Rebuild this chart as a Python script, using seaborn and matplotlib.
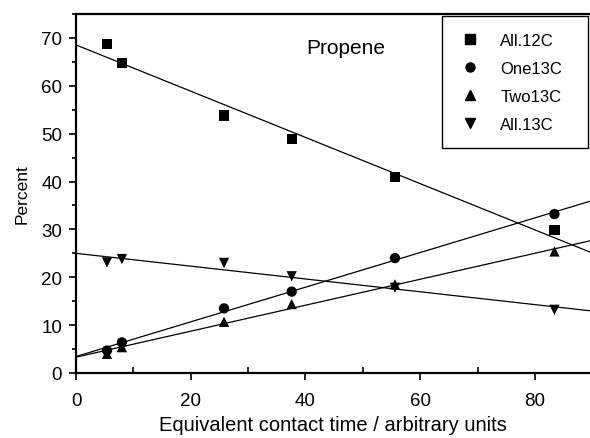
import matplotlib
matplotlib.use("Agg")
import matplotlib.pyplot as plt
from matplotlib.lines import Line2D
from matplotlib.ticker import MultipleLocator
import seaborn as sns
import pandas as pd

sns.set_style("ticks")
plt.rcParams['font.family'] = ['Liberation Sans', 'DejaVu Sans']
plt.rcParams['text.color'] = 'black'
plt.rcParams['axes.labelcolor'] = 'black'

# Data
series_names = ["All.12C", "One13C", "Two13C", "All.13C"]
time = [5.4, 8.0, 25.8, 37.6, 55.6, 83.4]
all12c = [68.7, 64.7, 53.8, 48.9, 41.0, 29.9]
one13c = [4.7, 6.4, 13.5, 17.0, 24.0, 33.2]
two13c = [4.0, 5.4, 10.7, 14.4, 18.5, 25.4]
all13c = [23.1, 23.8, 23.0, 20.2, 17.8, 13.2]
markers = ["s", "o", "^", "v"]

values = [all12c, one13c, two13c, all13c]
df = pd.concat([pd.DataFrame({"time": time, "pct": v, "series": n})
                for n, v in zip(series_names, values)], ignore_index=True)

fig = plt.figure(figsize=(5.9, 4.39), dpi=100)
ax = fig.add_axes([76/590, 1 - 374/439, 1 - 76/590, (374 - 15)/439])
ax.set_xlim(0, 89.6)
ax.set_ylim(0, 75)

handles = []
for name, mk in zip(series_names, markers):
    sub = df[df["series"] == name]
    sns.regplot(data=sub, x="time", y="pct", ax=ax, ci=None, truncate=False,
                marker=mk, color="black",
                scatter_kws={"s": 55, "edgecolor": "none", "alpha": 1, "zorder": 3},
                line_kws={"lw": 0.9, "color": "black"})
    handles.append(Line2D([], [], marker=mk, color="black", linestyle="none",
                          markersize=6.5))
ax.set_xlim(0, 89.6)
ax.set_ylim(0, 75)

ax.set_xlabel("Equivalent contact time / arbitrary units", fontsize=14.5,
              labelpad=4, color="black")
ax.set_ylabel("Percent", fontsize=12.5, labelpad=8, color="black")

ax.xaxis.set_major_locator(MultipleLocator(20))
ax.xaxis.set_minor_locator(MultipleLocator(10))
ax.yaxis.set_major_locator(MultipleLocator(10))
ax.yaxis.set_minor_locator(MultipleLocator(5))
ax.tick_params(axis="both", which="major", direction="out", length=5, width=1.2,
               labelsize=13.5, color="black", labelcolor="black")
ax.tick_params(axis="x", which="major", pad=9)
ax.tick_params(axis="y", which="major", pad=5)
ax.tick_params(axis="x", which="minor", direction="in", length=4, width=1.2,
               color="black")
ax.tick_params(axis="y", which="minor", direction="out", length=3, width=1.2,
               color="black")

for side in ["left", "bottom", "top"]:
    ax.spines[side].set_visible(True)
    ax.spines[side].set_linewidth(1.6)
    ax.spines[side].set_color("black")
ax.spines["right"].set_visible(False)

ax.text(47, 68, "Propene", fontsize=15, ha="center", va="center", color="black")

x0 = (442 - 76) / 514
x1 = (588 - 76) / 514
leg = ax.legend(handles, series_names, loc="upper left",
                bbox_to_anchor=(x0, 0.0, x1 - x0, 0.994), mode="expand",
                borderaxespad=0.0,
                fontsize=12, frameon=True, fancybox=False,
                handletextpad=1.2, labelspacing=0.78, borderpad=1.0,
                handlelength=1.3)
for t in leg.get_texts():
    t.set_color("black")
leg.get_frame().set_edgecolor("black")
leg.get_frame().set_linewidth(1.0)
leg.get_frame().set_alpha(1)

fig.savefig("out.png", dpi=100)
